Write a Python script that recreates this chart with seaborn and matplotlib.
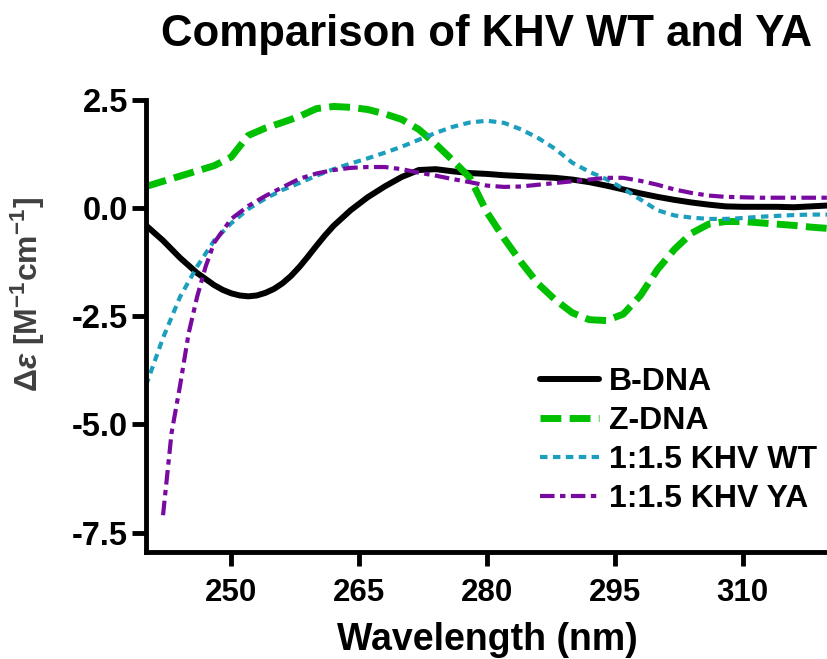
import matplotlib
matplotlib.use("Agg")
import matplotlib.pyplot as plt
import numpy as np
import pandas as pd
import seaborn as sns

# wavelengths (nm), 2 nm steps
wl = [240, 242, 244, 246, 248, 250, 252, 254, 256, 258, 260, 262, 264, 266, 268,
      270, 272, 274, 276, 278, 280, 282, 284, 286, 288, 290, 292, 294, 296, 298,
      300, 302, 304, 306, 308, 310, 312, 314, 316, 318, 320]

# B-DNA read a bit finer around its minimum
wl_b = [240, 242, 244, 246, 248, 249, 250, 251, 252, 253, 254, 255, 256, 257,
        258, 259, 260, 261, 262, 264, 266, 268, 270, 272, 274, 276, 278, 280,
        282, 284, 286, 288, 290, 292, 294, 296, 298, 300, 302, 304, 306, 308,
        310, 312, 314, 316, 318, 320]
b_dna = [-0.40, -0.75, -1.15, -1.50, -1.78, -1.89, -1.97, -2.02, -2.04, -2.02,
         -1.96, -1.87, -1.74, -1.57, -1.36, -1.12, -0.87, -0.63, -0.41, -0.05,
         0.25, 0.50, 0.72, 0.88, 0.90, 0.85, 0.81, 0.79, 0.76, 0.74,
         0.72, 0.70, 0.66, 0.60, 0.52, 0.43, 0.34, 0.26, 0.19, 0.13,
         0.08, 0.04, 0.03, 0.03, 0.03, 0.02, 0.04, 0.06]

z_dna = [0.50, 0.62, 0.74, 0.86, 0.98, 1.18, 1.68, 1.85, 1.98, 2.12,
         2.30, 2.35, 2.33, 2.28, 2.18, 2.05, 1.82, 1.48, 1.10, 0.70,
         -0.10, -0.70, -1.25, -1.75, -2.12, -2.42, -2.58, -2.60, -2.45, -2.02,
         -1.42, -0.95, -0.58, -0.37, -0.31, -0.31, -0.34, -0.37, -0.40, -0.44, -0.47]

khv_wt = [-4.10, -3.00, -2.05, -1.35, -0.75, -0.35, -0.02, 0.22, 0.42, 0.58,
          0.75, 0.90, 1.03, 1.15, 1.28, 1.42, 1.58, 1.74, 1.88, 1.98,
          2.02, 1.97, 1.82, 1.62, 1.37, 1.05, 0.84, 0.67, 0.45, 0.20,
          -0.05, -0.17, -0.22, -0.25, -0.25, -0.23, -0.20, -0.18, -0.16, -0.15, -0.15]

# YA trace starts a little later
wl_ya = [242, 243, 244, 245, 246, 247, 248, 250, 252, 254, 256, 258, 260, 262,
         264, 266, 268, 270, 272, 274, 276, 278, 280, 282, 284, 286, 288, 290,
         292, 294, 296, 298, 300, 302, 304, 306, 308, 310, 312, 314, 316, 318, 320]
khv_ya = [-7.10, -5.20, -4.10, -2.90, -2.05, -1.35, -0.80, -0.25, 0.05, 0.28,
          0.48, 0.68, 0.80, 0.88, 0.93, 0.95, 0.95, 0.90, 0.82, 0.75,
          0.67, 0.60, 0.52, 0.49, 0.50, 0.54, 0.58, 0.62, 0.66, 0.70,
          0.70, 0.63, 0.54, 0.43, 0.35, 0.29, 0.26, 0.25, 0.24, 0.24,
          0.24, 0.24, 0.24]

x_ticks = [250, 265, 280, 295, 310]
y_ticks = [2.5, 0.0, -2.5, -5.0, -7.5]

sns.set_theme(style="ticks")
plt.rcParams["font.family"] = ["Liberation Sans", "DejaVu Sans"]
plt.rcParams["font.weight"] = "bold"
plt.rcParams["text.color"] = "black"
plt.rcParams["axes.labelcolor"] = "black"
plt.rcParams["xtick.color"] = "black"
plt.rcParams["ytick.color"] = "black"
plt.rcParams["mathtext.fontset"] = "custom"
plt.rcParams["mathtext.rm"] = "Liberation Sans:bold"
plt.rcParams["mathtext.it"] = "Liberation Sans:bold:italic"
plt.rcParams["mathtext.bf"] = "Liberation Sans:bold"

fig = plt.figure(figsize=(8.28, 6.59), dpi=100)
ax = fig.add_axes([0.1763, 0.1624, 0.8237, 0.6859])

series = [
    ("B-DNA", wl_b, b_dna, "black", 4.3, "-"),
    ("Z-DNA", wl, z_dna, "#00C000", 5.0, (0, (3.0, 1.2))),
    ("1:1.5 KHV WT", wl, khv_wt, "#1C9FBD", 3.0, (0, (1.8, 1.3))),
    ("1:1.5 KHV YA", wl_ya, khv_ya, "#780AA0", 3.0, (0, (3.5, 1.3, 1.3, 1.3))),
]
for name, xs, ys, col, lw, ls in series:
    df = pd.DataFrame({"wl": xs, "val": ys})
    sns.lineplot(data=df, x="wl", y="val", ax=ax, color=col, linewidth=lw,
                 linestyle=ls, label=name, solid_joinstyle="round")

ax.set_xlim(240, 320)
ax.set_ylim(-7.95, 2.5)
ax.set_xticks(x_ticks)
ax.set_yticks(y_ticks)
ax.set_yticklabels([f"{v:.1f}" for v in y_ticks])
ax.tick_params(axis="both", width=3.5, length=10, color="black")
ax.tick_params(axis="y", labelsize=23.5, pad=3)
ax.tick_params(axis="x", labelsize=22.5, pad=9)
for lab in ax.get_xticklabels() + ax.get_yticklabels():
    lab.set_fontweight("bold")

sns.despine(ax=ax)
for sp in ["left", "bottom"]:
    ax.spines[sp].set_linewidth(3.5)
    ax.spines[sp].set_color("black")
    ax.spines[sp].set_capstyle("projecting")

ax.set_xlabel("Wavelength (nm)", fontsize=27, fontweight="bold", labelpad=10)
ax.set_ylabel(r"$\Delta\mathit{\varepsilon}$ [M$^{-1}$cm$^{-1}$]", fontsize=23,
              fontweight="bold", color="#404040")
ax.yaxis.set_label_coords(-0.145, 0.57)
ax.set_title("Comparison of KHV WT and YA", fontsize=31.5, fontweight="bold", pad=39)

leg = ax.legend(loc="upper left", bbox_to_anchor=(0.652, 0.443),
                bbox_transform=fig.transFigure, frameon=False, fontsize=23,
                handlelength=1.85, handletextpad=0.3, labelspacing=0.28,
                borderpad=0, borderaxespad=0)
for t in leg.get_texts():
    t.set_fontweight("bold")

fig.savefig("out.png", dpi=100)
